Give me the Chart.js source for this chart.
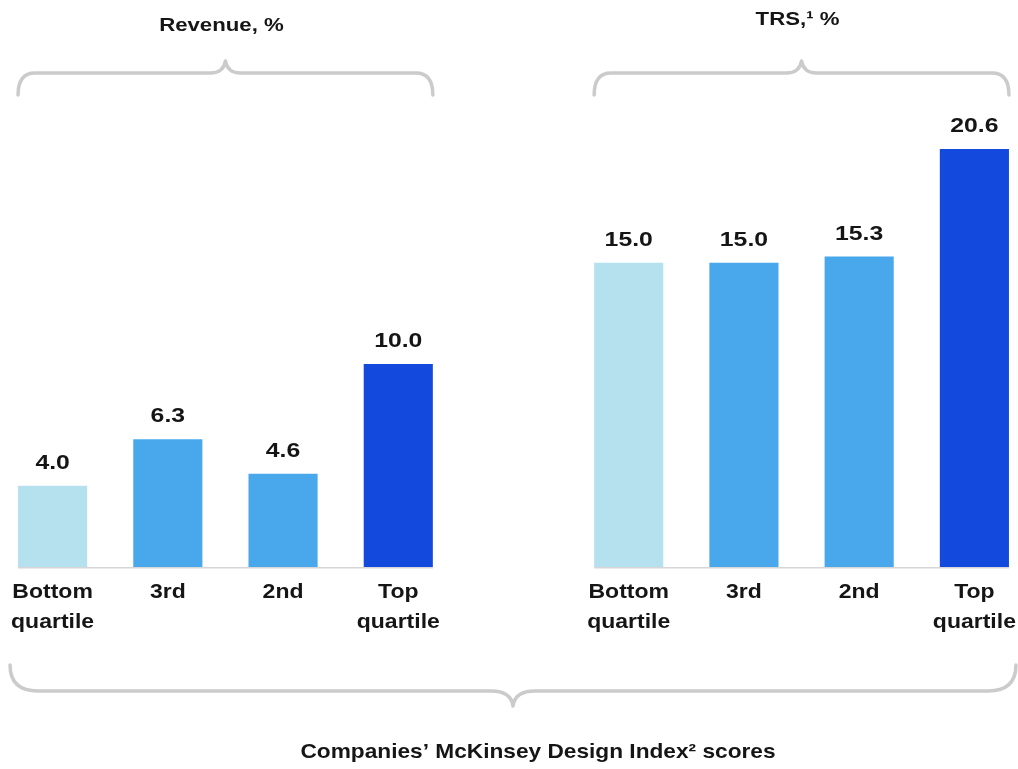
<!DOCTYPE html>
<html>
<head>
<meta charset="utf-8">
<title>Design Index performance</title>
<script src="https://cdn.jsdelivr.net/npm/chart.js@4/dist/chart.umd.min.js"></script>
<style>
  html, body { margin: 0; padding: 0; background: #ffffff; }
  body { width: 1018px; height: 769px; position: relative; overflow: hidden; }
  #chart { position: absolute; left: -5px; top: 0; }
</style>
</head>
<body>
<canvas id="chart" width="1037" height="769"></canvas>
<script>
// Quartile groups shown in both panels
const quartiles = [['Bottom', 'quartile'], ['3rd'], ['2nd'], ['Top', 'quartile']];
// Revenue growth, %
const revenue = [4.0, 6.3, 4.6, 10.0];
// Total returns to shareholders, %
const trs = [15.0, 15.0, 15.3, 20.6];
const quartileColors = ['#b5e1ef', '#49a8ec', '#49a8ec', '#1449de'];
const panelTitles = ['Revenue, %', 'TRS,\u00b9 %'];
const axisTitle = 'Companies\u2019 McKinsey Design Index\u00b2 scores';

// One category axis with an empty slot separating the two panels
const slotLabels = [...quartiles, [''], ...quartiles];
const slotValues = [...revenue, null, ...trs];
const slotColors = [...quartileColors, 'rgba(0,0,0,0)', ...quartileColors];

const INK = '#151515';
const BRACE = '#cbcbcb';

function wideText(ctx, text, x, y, font, stretch, align) {
  ctx.save();
  ctx.font = font;
  ctx.fillStyle = INK;
  ctx.textAlign = align || 'center';
  ctx.textBaseline = 'alphabetic';
  ctx.translate(x, y);
  ctx.scale(stretch, 1);
  ctx.fillText(text, 0, 0);
  ctx.restore();
}

// Horizontal curly brace: straight run at yLine, ends curling toward yEnd, point toward yTip
function brace(ctx, x0, x1, xc, yLine, yEnd, yTip, curl, tipRun) {
  ctx.save();
  ctx.strokeStyle = BRACE;
  ctx.lineWidth = 3.5;
  ctx.lineCap = 'round';
  ctx.lineJoin = 'round';
  ctx.beginPath();
  ctx.moveTo(x0, yEnd);
  ctx.quadraticCurveTo(x0, yLine, x0 + curl, yLine);
  ctx.lineTo(xc - tipRun, yLine);
  ctx.quadraticCurveTo(xc - 2, yLine, xc, yTip);
  ctx.quadraticCurveTo(xc + 2, yLine, xc + tipRun, yLine);
  ctx.lineTo(x1 - curl, yLine);
  ctx.quadraticCurveTo(x1, yLine, x1, yEnd);
  ctx.stroke();
  ctx.restore();
}

const annotations = {
  id: 'annotations',
  afterDatasetsDraw(chart) {
    const ctx = chart.ctx;
    const area = chart.chartArea;
    const bars = chart.getDatasetMeta(0).data;
    const panels = [[0, 1, 2, 3], [5, 6, 7, 8]];
    const titleBaselines = [31, 25];
    const extents = [];

    panels.forEach((idx, p) => {
      const first = bars[idx[0]], last = bars[idx[idx.length - 1]];
      const left = first.x - first.width / 2;
      const right = last.x + last.width / 2;
      extents.push([left, right]);

      // baseline rule
      ctx.save();
      ctx.strokeStyle = '#d6d6d6';
      ctx.lineWidth = 1.5;
      ctx.beginPath();
      ctx.moveTo(left, area.bottom + 0.75);
      ctx.lineTo(right, area.bottom + 0.75);
      ctx.stroke();
      ctx.restore();

      // value and category labels
      idx.forEach(i => {
        const bar = bars[i];
        const v = slotValues[i];
        wideText(ctx, v.toFixed(1), bar.x, bar.y - 17, 'bold 21px "Liberation Sans"', 1.18);
        slotLabels[i].forEach((line, k) => {
          wideText(ctx, line, bar.x, area.bottom + 31 + k * 29.5, 'bold 19.5px "Liberation Sans"', 1.18);
        });
      });

      // panel brace and title
      const mid = (left + right) / 2;
      brace(ctx, left, right, mid, 73, 95, 61, 17, 15);
      wideText(ctx, panelTitles[p], mid - 4, titleBaselines[p], 'bold 18.5px "Liberation Sans"', 1.2);
    });

    // brace spanning both panels, with the shared axis title below
    const bx0 = extents[0][0] - 8;
    const bx1 = extents[1][1] + 7;
    const bmid = (bx0 + bx1) / 2;
    brace(ctx, bx0, bx1, bmid, 691, 665, 706, 28, 22);
    wideText(ctx, axisTitle, bmid + 25, 758, 'bold 21px "Liberation Sans"', 1.08);
  }
};

new Chart(document.getElementById('chart'), {
  type: 'bar',
  data: {
    labels: slotLabels,
    datasets: [{
      data: slotValues,
      backgroundColor: slotColors,
      borderWidth: 0,
      barPercentage: 0.6,
      categoryPercentage: 1.0
    }]
  },
  options: {
    responsive: false,
    maintainAspectRatio: false,
    animation: false,
    events: [],
    layout: { padding: { top: 80, bottom: 202, left: 0, right: 0 } },
    plugins: { legend: { display: false }, tooltip: { enabled: false } },
    scales: {
      x: { display: false, offset: true, grid: { display: false } },
      y: { display: false, min: 0, max: 24 }
    }
  },
  plugins: [annotations]
});
</script>
</body>
</html>
